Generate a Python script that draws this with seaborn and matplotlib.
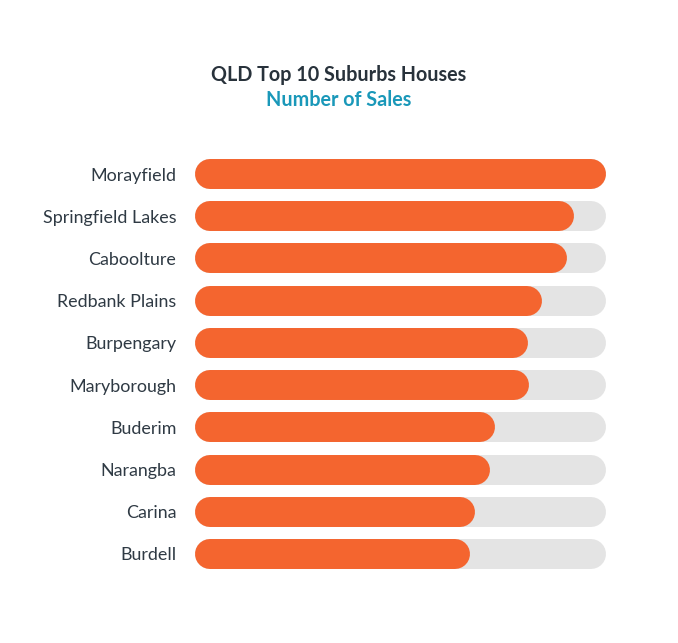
import matplotlib
matplotlib.use("Agg")
import matplotlib.pyplot as plt
import seaborn as sns
import pandas as pd

suburbs = ["Morayfield", "Springfield Lakes", "Caboolture", "Redbank Plains", "Burpengary",
           "Maryborough", "Buderim", "Narangba", "Carina", "Burdell"]
sales = [100.0, 92.2, 90.5, 84.4, 81.0, 81.3, 73.0, 71.8, 68.1, 66.9]
max_value = [100.0] * len(suburbs)

df = pd.DataFrame({"suburb": suburbs, "sales": sales, "max": max_value})

ORANGE = "#F4652F"
GREY = "#E4E4E4"
TITLE = "#28323B"
SUB = "#1A98B9"
LABEL = "#2F3A44"

sns.set_theme(style="white")
plt.rcParams["font.family"] = ["Lato", "DejaVu Sans"]

W, H = 678, 643
fig = plt.figure(figsize=(W / 100, H / 100), dpi=100)
left_px, right_px = 195, 606
top_px, bot_px = 152.9, 575.1
ax = fig.add_axes([left_px / W, 1 - bot_px / H, (right_px - left_px) / W, (bot_px - top_px) / H])

bar_h = 0.71
sns.barplot(data=df, y="suburb", x="max", color=GREY, width=bar_h, ax=ax, orient="h",
            saturation=1)
sns.barplot(data=df, y="suburb", x="sales", color=ORANGE, width=bar_h, ax=ax, orient="h",
            saturation=1)

ax.set_xlim(0, 100)
ax.set_ylim(len(suburbs) - 0.5, -0.5)

# replace rectangles by pills (thick lines with round caps)
px_per_x = (right_px - left_px) / 100.0
px_per_y = (bot_px - top_px) / len(suburbs)
thick_px = bar_h * px_per_y
rad_x = (thick_px / 2) / px_per_x
lw_pt = thick_px * 72 / 100
patches = list(ax.patches)
for p in patches:
    x, y = p.get_x(), p.get_y()
    w, h = p.get_width(), p.get_height()
    fc = p.get_facecolor()
    z = p.get_zorder()
    p.remove()
    yc = y + h / 2
    ax.plot([x + rad_x, x + w - rad_x], [yc, yc], color=fc, lw=lw_pt,
            solid_capstyle="round", zorder=z, clip_on=False)

ax.set_xlabel("")
ax.set_ylabel("")
ax.set_xticks([])
ax.tick_params(axis="y", length=0, pad=13.5, labelsize=12.9, labelcolor=LABEL)
for s in ax.spines.values():
    s.set_visible(False)

fig.text(0.5, 1 - 75 / H, "QLD Top 10 Suburbs Houses", ha="center", va="center",
         fontsize=14.2, fontweight="bold", color=TITLE)
fig.text(0.5, 1 - 100 / H, "Number of Sales", ha="center", va="center",
         fontsize=14.2, fontweight="bold", color=SUB)

fig.savefig("out.png", dpi=100, facecolor="white")
